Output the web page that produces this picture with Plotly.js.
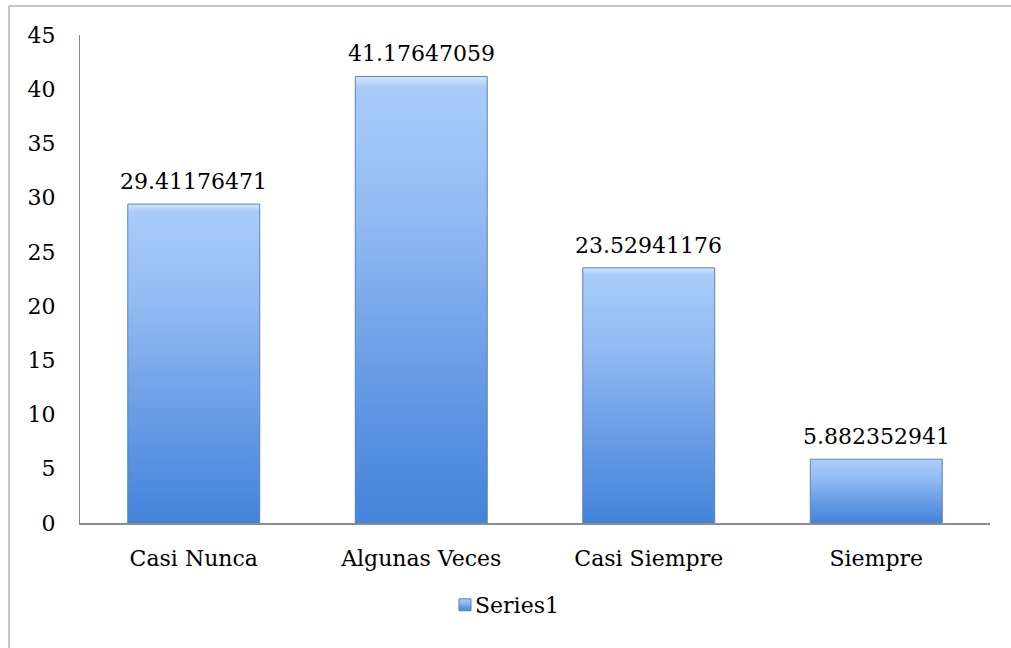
<!DOCTYPE html>
<html>
<head>
<meta charset="utf-8">
<script src="https://cdn.plot.ly/plotly-3.0.1.min.js"></script>
<style>
  html, body { margin: 0; padding: 0; background: #ffffff; }
  #chart { width: 1011px; height: 648px; }
  #chart .legendtext { font-family: 'DejaVu Serif' !important; font-size: 22px !important; fill: #000000 !important; }
</style>
</head>
<body>
<div id="chart"></div>
<script>
// ---- data ----
const categories = ["Casi Nunca", "Algunas Veces", "Casi Siempre", "Siempre"];
const values = [29.41176471, 41.17647059, 23.52941176, 5.882352941];
const valueLabels = ["29.41176471", "41.17647059", "23.52941176", "5.882352941"];
const seriesName = "Series1";
const yTicks = [0, 5, 10, 15, 20, 25, 30, 35, 40, 45];

const FONT = "DejaVu Serif";
const FS = 22;

const trace = {
  type: "bar",
  x: categories,
  y: values,
  name: seriesName,
  width: 0.58,
  marker: { color: "#7aa7ea", line: { color: "#5f80b3", width: 1 } },
  hoverinfo: "none",
  showlegend: true
};

const annotations = categories.map((c, i) => ({
  x: c, y: values[i], xref: "x", yref: "y",
  text: valueLabels[i], showarrow: false,
  yanchor: "bottom", xanchor: "center", yshift: 8,
  font: { family: FONT, size: FS, color: "#000000" }
}));

const layout = {
  width: 1011, height: 648,
  paper_bgcolor: "#ffffff", plot_bgcolor: "#ffffff",
  margin: { l: 80, r: 21, t: 35, b: 125, pad: 0 },
  font: { family: FONT, size: FS, color: "#000000" },
  xaxis: {
    type: "category",
    showline: true, linecolor: "#8c8c8c", linewidth: 2,
    showgrid: false, zeroline: false, ticks: "",
    ticklabelstandoff: 15,
    tickfont: { family: FONT, size: FS, color: "#000000" }
  },
  yaxis: {
    range: [0, 45], tickvals: yTicks, ticktext: yTicks.map(String),
    showline: true, linecolor: "#8c8c8c", linewidth: 1,
    showgrid: false, zeroline: false, ticks: "",
    ticklabelstandoff: 19,
    tickfont: { family: FONT, size: FS, color: "#000000" }
  },
  showlegend: true,
  legend: {
    orientation: "h", x: (445 - 80) / 910, xanchor: "left", y: -0.168, yanchor: "middle",
    font: { family: FONT, size: FS, color: "#000000" },
    itemwidth: 30, bgcolor: "rgba(0,0,0,0)"
  },
  annotations: annotations,
  shapes: [{
    type: "rect", xref: "paper", yref: "paper",
    x0: (9 - 80) / 910, x1: 1.1, y0: -0.4, y1: (523 - 6) / 488,
    line: { color: "#8c8c8c", width: 1 }, fillcolor: "rgba(0,0,0,0)", layer: "below"
  }]
};

function decorate(gd) {
  const NS = "http://www.w3.org/2000/svg";
  const svg = gd.querySelector("svg.main-svg");
  let defs = svg.querySelector("defs");
  if (!defs) { defs = document.createElementNS(NS, "defs"); svg.insertBefore(defs, svg.firstChild); }
  if (!document.getElementById("barGrad")) {
    const grad = document.createElementNS(NS, "linearGradient");
    grad.setAttribute("id", "barGrad");
    grad.setAttribute("x1", "0"); grad.setAttribute("y1", "0");
    grad.setAttribute("x2", "0"); grad.setAttribute("y2", "1");
    [["0", "#d2e6fc"], ["0.025", "#a9cbf8"], ["0.3", "#93bcf4"], ["0.65", "#6a9de6"], ["1", "#4383da"]].forEach(function (s) {
      const st = document.createElementNS(NS, "stop");
      st.setAttribute("offset", s[0]); st.setAttribute("stop-color", s[1]);
      grad.appendChild(st);
    });
    defs.appendChild(grad);
  }
  gd.querySelectorAll(".bars .point path, .legendpoints path").forEach(function (p) {
    p.style.fill = "url(#barGrad)";
  });
  gd.querySelectorAll(".legend .legendtext").forEach(function (t) {
    t.setAttribute("x", "30");
  });
}

Plotly.newPlot("chart", [trace], layout, { staticPlot: true }).then(function (gd) {
  decorate(gd);
  setTimeout(function () { decorate(gd); }, 50);
});
</script>
</body>
</html>
